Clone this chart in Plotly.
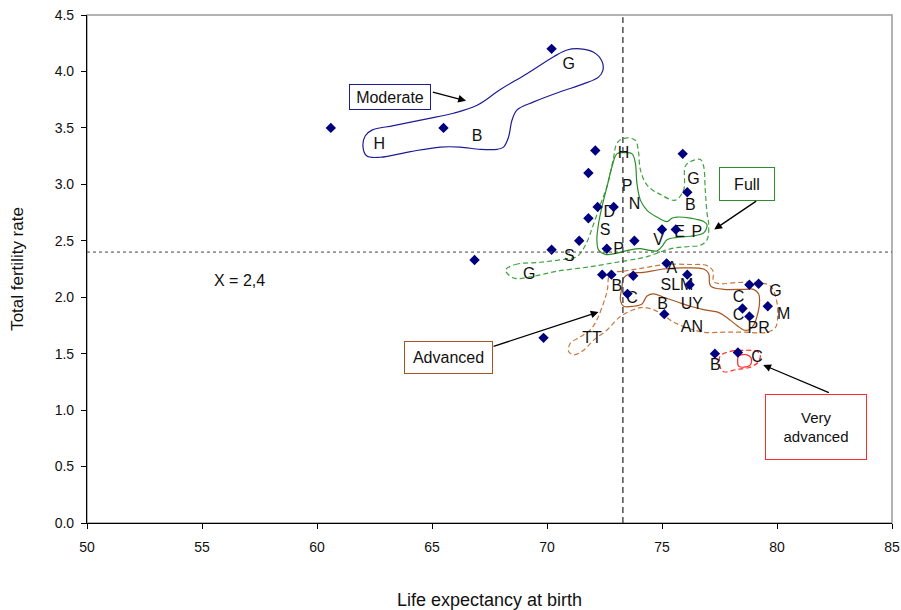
import plotly.graph_objects as go

# ---- Countries: life expectancy at birth vs total fertility rate ----
life_exp = [60.6, 65.5, 70.2, 72.1, 71.8, 72.2, 72.9, 71.8, 71.4, 70.2, 72.6, 73.8,
            75.9, 76.1, 75.0, 75.6, 75.2, 72.4, 72.8, 73.75, 76.1, 76.2, 73.5, 75.1,
            78.8, 79.2, 78.5, 78.8, 79.6, 69.85, 77.3, 78.3, 66.85]
fertility = [3.50, 3.50, 4.20, 3.30, 3.10, 2.80, 2.80, 2.70, 2.50, 2.42, 2.43, 2.50,
             3.27, 2.93, 2.60, 2.60, 2.30, 2.20, 2.20, 2.19, 2.20, 2.11, 2.03, 1.85,
             2.11, 2.12, 1.90, 1.83, 1.92, 1.64, 1.50, 1.51, 2.33]

# ---- Country initials ----
code_text = ["G", "H", "B", "H", "P", "N", "D", "S", "P", "V", "E", "P", "G", "B", "S", "G",
             "A", "SLM", "B", "C", "B", "UY", "AN", "C", "C", "G", "M", "PR", "TT", "B", "C"]
code_x = [70.94, 62.71, 66.96, 73.33, 73.48, 73.81, 72.71, 72.53, 73.11, 74.85, 75.77,
          76.52, 76.37, 76.23, 70.97, 69.23, 75.43, 75.65, 73.04, 73.70, 75.03, 76.30,
          76.30, 78.33, 78.33, 79.93, 80.29, 79.20, 71.96, 77.32, 79.13]
code_y = [4.06, 3.35, 3.42, 3.27, 2.98, 2.82, 2.75, 2.59, 2.42, 2.50, 2.57, 2.57, 3.04,
          2.81, 2.36, 2.20, 2.25, 2.10, 2.09, 1.98, 1.93, 1.93, 1.73, 1.99, 1.83, 2.05,
          1.84, 1.72, 1.63, 1.39, 1.46]

# ---- Group outlines (stage of the demographic transition) ----
moderate_x = [71.45, 72.03, 72.39, 72.43, 72.24, 71.59, 70.58, 69.42, 68.70, 68.48, 68.33,
              68.11, 67.83, 67.10, 66.23, 65.36, 64.06, 62.75, 62.17, 62.00, 62.10, 62.39,
              63.33, 64.78, 65.94, 66.96, 67.97, 69.13, 70.29, 70.87]
moderate_y = [4.20, 4.17, 4.09, 4.01, 3.95, 3.89, 3.82, 3.73, 3.66, 3.57, 3.42, 3.33,
              3.31, 3.31, 3.33, 3.33, 3.29, 3.24, 3.25, 3.33, 3.43, 3.48, 3.52, 3.58,
              3.63, 3.70, 3.84, 3.98, 4.13, 4.19]

full_outer_x = [68.20, 68.62, 69.71, 70.87, 71.30, 71.67, 72.01, 72.32, 72.62, 72.88, 73.06,
                73.41, 73.84, 73.97, 74.06, 74.36, 74.93, 75.58, 75.94, 76.01, 76.23, 76.67,
                76.81, 76.88, 76.96, 77.03, 76.96, 76.67, 76.23, 75.65, 75.22, 74.78, 74.35,
                73.91, 73.04, 71.88, 70.43, 69.27, 68.55]
full_outer_y = [2.24, 2.29, 2.31, 2.34, 2.36, 2.46, 2.64, 2.82, 2.99, 3.22, 3.37,
                3.41, 3.39, 3.30, 3.13, 2.99, 2.91, 2.86, 2.95, 3.16, 3.20, 3.22,
                3.16, 2.95, 2.74, 2.65, 2.51, 2.46, 2.45, 2.44, 2.42, 2.39, 2.36,
                2.34, 2.31, 2.27, 2.23, 2.18, 2.17]

full_inner_x = [73.04, 73.33, 73.70, 73.84, 73.91, 74.06, 74.35, 74.78, 75.22, 75.43, 75.65,
                76.23, 76.81, 76.96, 76.81, 76.23, 75.65, 75.22, 75.00, 74.78, 74.35, 74.06,
                73.62, 73.04, 72.53, 72.24, 72.17, 72.24, 72.39, 72.61, 72.83]
full_inner_y = [3.27, 3.28, 3.27, 3.19, 3.01, 2.86, 2.77, 2.71, 2.67, 2.70, 2.71,
                2.70, 2.67, 2.64, 2.57, 2.54, 2.53, 2.51, 2.45, 2.41, 2.42, 2.43,
                2.42, 2.39, 2.38, 2.42, 2.51, 2.65, 2.80, 2.98, 3.16]

adv_outer_x = [72.75, 73.33, 74.20, 75.22, 76.23, 76.96, 77.22, 77.24, 77.53, 78.26, 79.13,
               79.71, 79.97, 80.03, 79.93, 79.57, 78.55, 77.68, 76.81, 76.09, 75.50, 75.07,
               74.63, 74.20, 73.91, 73.19, 72.61, 72.03, 71.59, 71.16, 70.94, 71.01, 71.45,
               71.88, 72.17, 72.46, 72.62]
adv_outer_y = [2.21, 2.23, 2.26, 2.29, 2.29, 2.28, 2.23, 2.14, 2.12, 2.13, 2.13,
               2.10, 1.98, 1.83, 1.73, 1.69, 1.69, 1.69, 1.69, 1.73, 1.78, 1.84,
               1.89, 1.91, 1.90, 1.83, 1.71, 1.62, 1.53, 1.49, 1.52, 1.59, 1.65,
               1.71, 1.80, 1.95, 2.06]

adv_inner_x = [73.33, 73.62, 74.20, 75.07, 75.94, 76.81, 77.03, 77.07, 77.17, 77.68, 78.55,
               78.98, 79.20, 79.24, 79.13, 78.98, 78.77, 78.55, 78.26, 77.68, 77.39, 76.81,
               76.23, 75.65, 75.07, 74.63, 74.35, 74.20, 74.13, 73.77, 73.33, 73.19, 73.26]
adv_inner_y = [2.17, 2.21, 2.22, 2.25, 2.26, 2.25, 2.21, 2.12, 2.09, 2.07, 2.07,
               2.07, 2.03, 1.95, 1.83, 1.75, 1.71, 1.71, 1.75, 1.84, 1.87, 1.89,
               1.92, 1.96, 2.00, 2.03, 2.01, 1.96, 1.94, 1.92, 1.92, 1.98, 2.09]

vadv_outer_x = [77.53, 77.97, 78.55, 79.13, 79.27, 79.20, 78.84, 78.26, 77.68, 77.53]
vadv_outer_y = [1.48, 1.52, 1.53, 1.52, 1.49, 1.43, 1.38, 1.36, 1.34, 1.38]

vadv_inner_x = [78.33, 78.70, 78.88, 78.84, 78.55, 78.33, 78.29]
vadv_inner_y = [1.48, 1.49, 1.46, 1.40, 1.38, 1.39, 1.44]

# ---- Reference means ----
mean_life_exp = 73.3
mean_fertility = 2.4

FONT = "Liberation Sans, Arial, sans-serif"
NAVY = "#00007f"
BLUE_LINE = "#1c1c96"
GREEN_DASH = "#3fa33f"
GREEN_SOLID = "#2a8f2a"
BROWN_DASH = "#c9773f"
BROWN_SOLID = "#a85420"
RED = "#ff2a2a"

fig = go.Figure()


def outline(xs, ys, color, dash):
    fig.add_trace(go.Scatter(
        x=xs + xs[:1], y=ys + ys[:1], mode="lines",
        line=dict(color=color, width=1.2, dash=dash, shape="spline", smoothing=1.0),
        hoverinfo="skip", showlegend=False))


SHORT_DASH = "5px,3px"
outline(moderate_x, moderate_y, BLUE_LINE, "solid")
outline(full_outer_x, full_outer_y, GREEN_DASH, SHORT_DASH)
outline(full_inner_x, full_inner_y, GREEN_SOLID, "solid")
outline(adv_outer_x, adv_outer_y, BROWN_DASH, SHORT_DASH)
outline(adv_inner_x, adv_inner_y, BROWN_SOLID, "solid")
outline(vadv_outer_x, vadv_outer_y, RED, SHORT_DASH)
outline(vadv_inner_x, vadv_inner_y, RED, "solid")

fig.add_trace(go.Scatter(
    x=code_x, y=code_y, mode="text", text=code_text,
    textfont=dict(family=FONT, size=16, color="#111111"),
    hoverinfo="skip", showlegend=False))

fig.add_trace(go.Scatter(
    x=life_exp, y=fertility, mode="markers",
    marker=dict(symbol="diamond", size=8, color=NAVY),
    showlegend=False))

# Mean lines
fig.add_shape(type="line", xref="x", yref="y", x0=mean_life_exp, x1=mean_life_exp,
              y0=0, y1=4.48, line=dict(color="#333333", width=1.3, dash="6px,4px"))
fig.add_shape(type="line", xref="x", yref="y", x0=50, x1=85,
              y0=mean_fertility, y1=mean_fertility,
              line=dict(color="#444444", width=1, dash="3px,3px"))

# Plot frame (top/right in grey)
fig.add_shape(type="rect", xref="paper", yref="paper", x0=0, x1=1, y0=0, y1=1,
              line=dict(color="#9a9a9a", width=1.5), layer="below")

# Group boxes
boxes = [
    ("Moderate", 63.19, 3.77, BLUE_LINE, 72, 16, 16),
    ("Full", 78.71, 3.00, GREEN_SOLID, 46, 24, 16),
    ("Advanced", 65.72, 1.47, BROWN_SOLID, 79, 23, 16),
    ("Very<br>advanced", 81.71, 0.85, RED, 92, 56, 15),
]
for txt, bx, by, col, w, h, fs in boxes:
    fig.add_annotation(x=bx, y=by, xref="x", yref="y", text=txt, showarrow=False,
                       font=dict(family=FONT, size=fs, color="#111111"),
                       bordercolor=col, borderwidth=1, borderpad=4, bgcolor="white",
                       width=w, height=h, align="center", valign="middle")

# Arrows from boxes to groups
arrows = [
    (64.97, 3.82, 66.48, 3.74),
    (79.16, 2.86, 77.27, 2.60),
    (67.61, 1.56, 72.24, 1.87),
    (82.32, 1.15, 79.40, 1.40),
]
for tx, ty, hx, hy in arrows:
    fig.add_annotation(x=hx, y=hy, ax=tx, ay=ty, xref="x", yref="y", axref="x", ayref="y",
                       text="", showarrow=True, arrowhead=2, arrowsize=1.2,
                       arrowwidth=1.3, arrowcolor="black", standoff=0)

fig.add_annotation(x=56.62, y=2.15, xref="x", yref="y", text="X = 2,4", showarrow=False,
                   font=dict(family=FONT, size=16, color="#111111"))
fig.add_annotation(x=72.53, y=-0.077, xref="x", yref="y", text="X = 73.3", showarrow=False,
                   font=dict(family=FONT, size=16, color="#111111"))

fig.update_layout(
    width=901, height=610,
    margin=dict(l=87, r=9, t=15, b=87),
    paper_bgcolor="white", plot_bgcolor="white",
    font=dict(family=FONT, color="#111111"),
    xaxis=dict(range=[50, 85], tick0=50, dtick=5, showgrid=False, zeroline=False,
               showline=True, linecolor="black", linewidth=1.2, automargin=False,
               ticks="outside", ticklen=5, tickcolor="black",
               tickfont=dict(size=14), ticklabelstandoff=6,
               title=dict(text="Life expectancy at birth", font=dict(size=18), standoff=39)),
    yaxis=dict(range=[0, 4.5], tick0=0, dtick=0.5, tickformat=".1f",
               showgrid=False, zeroline=False, automargin=False,
               showline=True, linecolor="black", linewidth=1.2,
               ticks="outside", ticklen=5, tickcolor="black",
               tickfont=dict(size=14), ticklabelstandoff=4,
               title=dict(text="Total fertility rate", font=dict(size=17), standoff=26)),
)

fig.write_html("out.html")
